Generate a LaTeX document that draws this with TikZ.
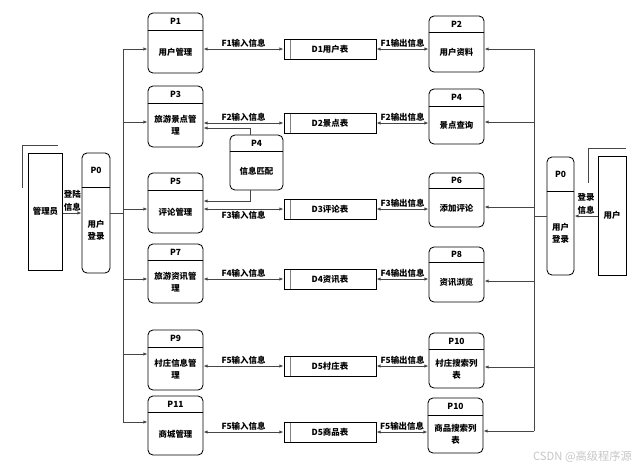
\documentclass[tikz,border=0pt]{standalone}
\usepackage{fontspec}
\setmainfont{Noto Sans CJK SC}
\usetikzlibrary{arrows.meta, positioning, calc}

% process box: [opts]{name}{x}{top}{bottom}{header height}{number}{text}
\newcommand{\proc}[8][]{%
  \node[procbox, #1, minimum height={(#5-#4)*0.025cm}] (#2) at (#3, {(#4+#5)/2}) {};
  \draw ($(#2.north west)+(0,#6)$) -- ($(#2.north east)+(0,#6)$);
  \node[proctitle] (#2-t) at ($(#2.north)+(0,#6/2)$) {#7};
  \node[proctext] (#2-b) at ($(#2.center)+(0,#6/2)$) {#8};
}

\begin{document}
\begin{tikzpicture}[
      x=0.025cm, y=-0.025cm,
      font=\fontsize{6}{8.5}\selectfont\bfseries,
      line width=0.6pt,
      procbox/.style={
          draw,
          rounded corners=3.5pt,
          minimum width=1.375cm,
          inner sep=0pt
      },
      proctitle/.style={inner sep=0pt},
      proctext/.style={align=center, inner sep=0pt},
      entity/.style={
          draw,
          minimum width=0.825cm,
          minimum height=2.925cm
      },
      store/.style={
          draw,
          minimum width=2.3cm,
          minimum height=0.5cm,
          path picture={\draw[gray] ([xshift=0.15cm]path picture bounding box.north west)
              -- ([xshift=0.15cm]path picture bounding box.south west);}
      },
      link/.style={draw=gray!55!black},
      arrow/.style={link, -{Latex[length=3pt, width=2.4pt]}},
      dblarrow/.style={link, {Latex[length=3pt, width=2.4pt]}-{Latex[length=3pt, width=2.4pt]}},
      flowlbl/.style={inner sep=1pt},
      loginlbl/.style={inner sep=1pt, align=center, font=\fontsize{6}{9}\selectfont\bfseries}
  ]
      \useasboundingbox (0,0) rectangle (643,469);

      % --- External entities ---
      \node[entity] (admin) at (45.5,211.5) {管理员};
      \draw[link] ($(admin.north west)+(-5,35)$) |- ($(admin.north east)+(-5,-7)$);
      \node[entity, minimum width=0.7cm, minimum height=2.975cm] (user) at (612,215.5) {用户};
      \draw[link] ($(user.north west)+(-9,27)$) |- ($(user.north east)+(0,-7)$);

      % --- Login processes ---
      \proc[minimum width=0.7cm]{p0a}{96}{153}{273}{35}{P0}{用户\\登录}
      \proc[minimum width=0.675cm]{p0u}{560.5}{157}{275}{35}{P0}{用户\\登录}

      % --- Admin side processes ---
      \proc{p1}{175.5}{13}{73}{18}{P1}{用户管理}
      \proc{p3}{175.5}{86}{147}{18}{P3}{旅游景点管\\理}
      \proc{p5}{175.5}{173}{233}{18}{P5}{评论管理}
      \proc{p7}{175.5}{244}{303}{17}{P7}{旅游资讯管\\理}
      \proc{p9}{175.5}{330}{390}{18}{P9}{村庄信息管\\理}
      \proc{p11}{175.5}{396}{455}{17}{P11}{商城管理}

      % --- User side processes ---
      \proc{p2}{456.5}{16}{72}{17}{P2}{用户资料}
      \proc{p4}{456.5}{89}{144}{18}{P4}{景点查询}
      \proc{p6}{456.5}{173}{227}{16}{P6}{添加评论}
      \proc{p8}{456.5}{247}{302}{16}{P8}{资讯浏览}
      \proc{p10}{456.5}{333}{388}{17}{P10}{村庄搜索列\\表}
      \proc{p10b}{455.5}{398}{453}{18}{P10}{商品搜索列\\表}

      % --- Matching ---
      \proc[minimum width=1.325cm]{m4}{256.5}{135}{190}{17}{P4}{信息匹配}

      % --- Data stores ---
      \node[store] (d1) at (330,49) {D1用户表};
      \node[store] (d2) at (330,123) {D2景点表};
      \node[store] (d3) at (330,209) {D3评论表};
      \node[store] (d4) at (330,279) {D4资讯表};
      \node[store] (d5) at (330,366) {D5村庄表};
      \node[store] (d6) at (330,432) {D5商品表};

      % --- Login flows ---
      \draw[arrow] (admin.east |- p0a) -- (p0a.west) node[loginlbl, midway, above] {登陆\\信息};
      \draw[arrow] (user.west |- p0u) -- (p0u.east) node[loginlbl, midway, above] {登录\\信息};

      % --- Left bus ---
      \coordinate (lb1) at (123,49);
      \coordinate (lb3) at (123,122);
      \coordinate (lb5) at (123,209);
      \coordinate (lb7) at (123,279);
      \coordinate (lb9) at (123,354);
      \coordinate (lb11) at (123,422);
      \draw[link] (lb1) -- (lb11);
      \draw[link] (p0a.east) -- (p0a.east -| lb1);
      \foreach \p in {1,3,5,7,9,11}
          \draw[arrow] (lb\p) -- (lb\p -| p\p.west);

      % --- Right bus ---
      \coordinate (rb2) at (534,49);
      \coordinate (rb4) at (534,122);
      \coordinate (rb6) at (534,207);
      \coordinate (rb8) at (534,281);
      \coordinate (rb10) at (534,367);
      \coordinate (rb12) at (534,431);
      \draw[link] (rb2) -- (rb12);
      \draw[link] (p0u.west) -- (p0u.west -| rb2);
      \foreach \p in {2,4,6,8,10}
          \draw[arrow] (rb\p) -- (rb\p -| p\p.east);
      \draw[arrow] (rb12) -- (rb12 -| p10b.east);

      % --- Data flows ---
      \draw[dblarrow] (p1.east |- d1) -- (d1.west) node[flowlbl, midway, above] {F1输入信息};
      \draw[dblarrow] (d1.east) -- (d1 -| p2.west) node[flowlbl, midway, above] {F1输出信息};
      \draw[dblarrow] (p3.east |- d2) -- (d2.west) node[flowlbl, midway, above] {F2输入信息};
      \draw[dblarrow] (d2.east) -- (d2 -| p4.west) node[flowlbl, midway, above] {F2输出信息};
      \draw[dblarrow] (p5.east |- d3) -- (d3.west) node[flowlbl, midway, below] {F3输入信息};
      \draw[dblarrow] (d3.east) -- (d3 -| p6.west) node[flowlbl, midway, above] {F3输出信息};
      \draw[dblarrow] (p7.east |- d4) -- (d4.west) node[flowlbl, midway, above] {F4输入信息};
      \draw[dblarrow] (d4.east) -- (d4 -| p8.west) node[flowlbl, midway, above] {F4输出信息};
      \draw[dblarrow] (p9.east |- d5) -- (d5.west) node[flowlbl, midway, above] {F5输入信息};
      \draw[dblarrow] (d5.east) -- (d5 -| p10.west) node[flowlbl, midway, above] {F5输出信息};
      \draw[dblarrow] (p11.east |- d6) -- (d6.west) node[flowlbl, midway, above] {F5输入信息};
      \draw[dblarrow] (d6.east) -- (d6 -| p10b.west) node[flowlbl, midway, above] {F5输出信息};

      % --- Matching links ---
      \draw[arrow] ($(m4.north)+(-6.5,0)$) |- ($(p3.east)+(0,11.5)$);
      \draw[arrow] ($(m4.south)+(-6.5,0)$) |- ($(p5.east)+(0,-2)$);

      % --- Watermark ---
      \node[text=gray!45, font=\fontsize{8}{9}\selectfont, anchor=east] (mark) at (637,457) {CSDN @高级程序源};

  \end{tikzpicture}
\end{document}
